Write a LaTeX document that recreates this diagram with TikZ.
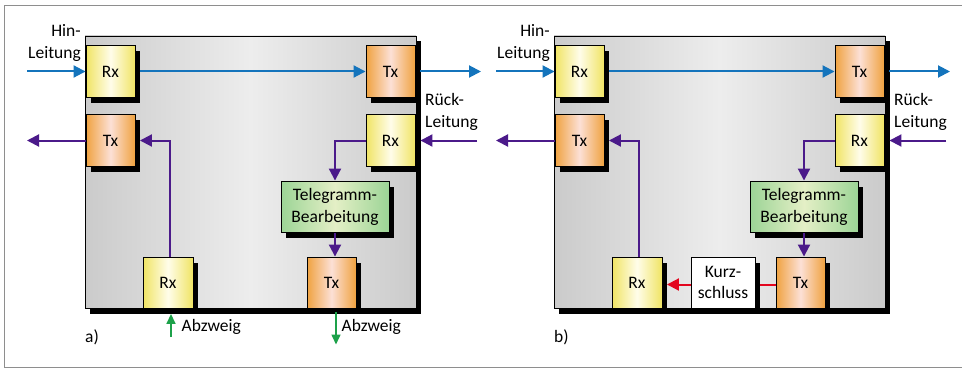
\documentclass[tikz,border=0pt]{standalone}
\usepackage{fontspec}
\setmainfont{Carlito}
\usetikzlibrary{arrows.meta,shadows}

\definecolor{wireblue}{HTML}{1474BC}
\definecolor{wirepurple}{HTML}{4B1A8A}
\definecolor{wiregreen}{HTML}{1DA14A}
\definecolor{wirered}{HTML}{E3061E}
\definecolor{rxedge}{HTML}{F0E464}
\definecolor{rxmid}{HTML}{FFFDEA}
\definecolor{txedge}{HTML}{F0A240}
\definecolor{txmid}{HTML}{FCE0D6}
\definecolor{teledge}{HTML}{9CD496}
\definecolor{telmid}{HTML}{E4EFC6}
\definecolor{paneledge}{HTML}{CBCBCB}
\definecolor{panelmid}{HTML}{EDEDED}
\definecolor{framegray}{HTML}{8E8E8E}

\tikzset{
  txtfont/.style={font=\fontsize{17.5pt}{21.5pt}\selectfont},
  blackshadow/.style={drop shadow={shadow xshift=4.5pt,shadow yshift=-5.5pt,opacity=1,fill=black}},
  unit/.style={draw=black,line width=0.9pt,blackshadow,inner sep=0pt,txtfont,
    minimum width=49pt,minimum height=52pt,align=center},
  rxbox/.style={unit,left color=rxedge,right color=rxedge,middle color=rxmid},
  txbox/.style={unit,left color=txedge,right color=txedge,middle color=txmid},
  telbox/.style={unit,left color=teledge,right color=teledge,middle color=telmid,
    minimum width=108pt,minimum height=51.5pt},
  kurzbox/.style={unit,fill=white,minimum width=64pt,minimum height=51pt},
  panelbox/.style={draw=black,line width=0.8pt,blackshadow,inner sep=0pt,
    left color=paneledge,right color=paneledge,middle color=panelmid,
    minimum width=331pt,minimum height=272pt},
  bluewire/.style={draw=wireblue,line width=2pt,-{Triangle[length=12pt,width=12pt]}},
  purplewire/.style={draw=wirepurple,line width=2pt},
  purplearrow/.style={purplewire,-{Triangle[length=12pt,width=12pt]}},
  greenwire/.style={draw=wiregreen,line width=1.6pt,-{Triangle[length=10pt,width=9pt]}},
  redwire/.style={draw=wirered,line width=2pt},
  redarrow/.style={redwire,-{Triangle[length=12pt,width=12pt]}},
  label/.style={inner sep=0pt,txtfont},
}

% One repeater: the shaded housing with its Rx/Tx units and the main wiring
\newcommand\repeatercore{%
  \node[panelbox] (panel) at (250.5,172) {};
  \node[rxbox] (RxH) at (110.5,71.5) {Rx};
  \node[txbox] (TxL) at (110.5,140.5) {Tx};
  \node[txbox] (TxR) at (390.5,71.5) {Tx};
  \node[rxbox] (RxR) at (390.5,140.5) {Rx};
  \node[telbox] (Tel) at (335,206.75) {Telegramm-\\Bearbeitung};
  \node[rxbox,minimum width=50pt,minimum height=51pt] (RxB) at (168,282.5) {Rx};
  \node[txbox,minimum height=51pt] (TxB) at (331.5,282.5) {Tx};
  \coordinate (hinin) at (27,71.5);
  \coordinate (hinout) at (481,71.5);
  \coordinate (rueckin) at (477,140.5);
  \coordinate (rueckout) at (27,140.5);
  \draw[bluewire] (hinin) -- (RxH.west);
  \draw[bluewire] ([xshift=4.5pt]RxH.east) -- (TxR.west);
  \draw[bluewire] ([xshift=5pt]TxR.east) -- (hinout);
  \draw[purplearrow] (rueckin) -- ([xshift=5pt]RxR.east);
  \draw[purplearrow] (TxL.west) -- (rueckout);
  \draw[purplearrow] (RxR.west) -| (Tel.north);
  \draw[purplearrow] (Tel.south) -- (Tel.south |- TxB.north);
  \draw[purplearrow] ([xshift=2pt]RxB.north) |- ([xshift=4.5pt]TxL.east);
  \node[label,anchor=east,align=right] (hinlbl) at (81,43) {Hin-\\Leitung};
  \node[label,anchor=west,align=left] (ruecklbl) at (425,112) {Rück-\\Leitung};
}

\begin{document}
\begin{tikzpicture}[x=1pt,y=-1pt]
  \useasboundingbox (0,0) rectangle (962,369);
  % outer frame
  \draw[framegray,line width=1.2pt] (962,5.5) -- (4.5,5.5) -- (4.5,367.5) -- (962,367.5);

  % a) normal operation with branch line
  \begin{scope}[name prefix=a-]
    \repeatercore
    \coordinate (abin) at (171,337);
    \coordinate (about) at (336,344.5);
    \draw[greenwire] (abin) -- ([xshift=3pt,yshift=-5.5pt]RxB.south);
    \draw[greenwire] (about |- 0,312) -- (about);
    \node[label,anchor=west] (ablblin) at (181.5,327) {Abzweig};
    \node[label,anchor=west] (ablblout) at (341.5,327) {Abzweig};
    \node[label,anchor=west] (tag) at (85,337) {a)};
  \end{scope}

  % b) branch replaced by a short-circuit loop
  \begin{scope}[xshift=469pt,name prefix=b-]
    \repeatercore
    \node[kurzbox] (Kurz) at (254,282.5) {Kurz-\\schluss};
    \draw[redwire] ([yshift=-2pt]TxB.west) -- ([xshift=4.5pt,yshift=-2pt]Kurz.east);
    \draw[redarrow] ([yshift=-2pt]Kurz.west) -- ([xshift=4.5pt,yshift=-2pt]RxB.east);
    \node[label,anchor=west] (tag) at (85,337) {b)};
  \end{scope}
\end{tikzpicture}
\end{document}
